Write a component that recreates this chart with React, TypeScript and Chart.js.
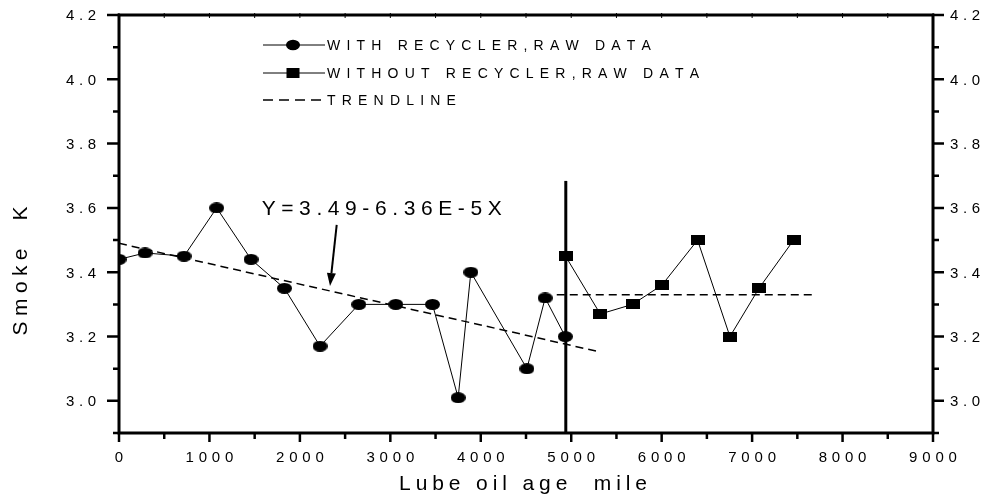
import React, { useEffect, useRef } from 'react';
import { Chart, registerables } from 'chart.js';

Chart.register(...registerables);

// ---- data ----
const withRecyclerX = [0, 288, 719, 1080, 1460, 1829, 2223, 2651, 3060, 3466, 3750, 3890, 4510, 4712, 4934];
const withRecyclerY = [3.44, 3.46, 3.45, 3.6, 3.44, 3.35, 3.17, 3.3, 3.3, 3.3, 3.01, 3.4, 3.1, 3.32, 3.2];
const withoutRecyclerX = [4937, 5321, 5678, 6003, 6397, 6755, 7076, 7459];
const withoutRecyclerY = [3.45, 3.27, 3.3, 3.36, 3.5, 3.2, 3.35, 3.5];
// Y = 3.49 - 6.36E-5 X
const trend1X = [0, 5320];
const trend1Y = [3.49, 3.152];
const trend2X = [4840, 7670];
const trend2Y = [3.33, 3.33];
const dividerX = [4940, 4940];
const dividerY = [2.9, 3.684];

const xRange = [0, 9000];
const yRange = [2.9, 4.2];
const xTickValues = [0, 1000, 2000, 3000, 4000, 5000, 6000, 7000, 8000, 9000];
const xMinorStep = 500;
const yTickLabels = ['3.0', '3.2', '3.4', '3.6', '3.8', '4.0', '4.2'];
const yMinorStep = 0.1;

const legendLabels = ['WITH RECYCLER,RAW DATA', 'WITHOUT RECYCLER,RAW DATA', 'TRENDLINE'];
const equationText = 'Y=3.49-6.36E-5X';
const equationAnchor = [1577, 3.6];
const arrowFrom = [2407, 3.547];
const arrowTo = [2333, 3.357];
const xTitle = 'Lube oil age  mile';
const yTitle = 'Smoke  K';

const FONT = '"Liberation Sans", Arial, Helvetica, sans-serif';

function drawSpaced(
  ctx: CanvasRenderingContext2D,
  text: string,
  x: number,
  y: number,
  spacing: number,
  align: 'left' | 'center' | 'right'
) {
  const chars = Array.from(text);
  const widths = chars.map((c) => ctx.measureText(c).width);
  const total = widths.reduce((a, b) => a + b, 0) + spacing * (chars.length - 1);
  let cx = align === 'left' ? x : align === 'center' ? x - total / 2 : x - total;
  ctx.textAlign = 'left';
  chars.forEach((c, i) => {
    ctx.fillText(c, cx, y);
    cx += widths[i] + spacing;
  });
}

function makeEllipse(w: number, h: number) {
  const c = document.createElement('canvas');
  c.width = w;
  c.height = h;
  const g = c.getContext('2d')!;
  g.fillStyle = '#000';
  g.beginPath();
  g.ellipse(w / 2, h / 2, w / 2, h / 2, 0, 0, Math.PI * 2);
  g.fill();
  return c;
}

function makeRect(w: number, h: number) {
  const c = document.createElement('canvas');
  c.width = w;
  c.height = h;
  const g = c.getContext('2d')!;
  g.fillStyle = '#000';
  g.fillRect(0, 0, w, h);
  return c;
}

const framePlugin = {
  id: 'originFrame',
  afterDraw(chart: any) {
    const ctx: CanvasRenderingContext2D = chart.ctx;
    const xs = chart.scales.x;
    const ys = chart.scales.y;
    const { left: L, right: R, top: T, bottom: B } = chart.chartArea;
    ctx.save();
    ctx.strokeStyle = '#000';
    ctx.fillStyle = '#000';

    // frame
    ctx.lineWidth = 3;
    ctx.beginPath();
    ctx.rect(L, T, R - L, B - T);
    ctx.stroke();

    // ticks
    ctx.lineWidth = 2.5;
    const yMajorVals = yTickLabels.map(Number);
    for (let v = yRange[0]; v <= yRange[1] + 1e-9; v += yMinorStep) {
      const isMajor = yMajorVals.some((m) => Math.abs(m - v) < 1e-6);
      const py = ys.getPixelForValue(v);
      const len = isMajor ? 12 : 6;
      ctx.beginPath();
      ctx.moveTo(L - len, py);
      ctx.lineTo(L, py);
      ctx.moveTo(R, py);
      ctx.lineTo(R + (isMajor ? 11 : 6), py);
      ctx.stroke();
    }
    for (let v = xRange[0]; v <= xRange[1] + 1e-9; v += xMinorStep) {
      const isMajor = xTickValues.includes(v);
      const px = xs.getPixelForValue(v);
      ctx.lineWidth = 2.5;
      ctx.beginPath();
      ctx.moveTo(px, B);
      ctx.lineTo(px, B + (isMajor ? 9 : 6));
      ctx.stroke();
      ctx.lineWidth = 1;
      ctx.beginPath();
      ctx.moveTo(px, T - 2);
      ctx.lineTo(px, T + 3);
      ctx.stroke();
    }

    // tick labels
    ctx.textBaseline = 'alphabetic';
    ctx.font = `15px ${FONT}`;
    yTickLabels.forEach((lab) => {
      const py = ys.getPixelForValue(Number(lab));
      drawSpaced(ctx, lab, L - 23, py + 5.4, 4.6, 'right');
      drawSpaced(ctx, lab, R + 17, py + 5.4, 4.6, 'left');
    });
    xTickValues.forEach((v) => {
      const px = xs.getPixelForValue(v);
      drawSpaced(ctx, String(v), px, B + 29, 4.8, 'center');
    });

    // axis titles
    ctx.font = `21px ${FONT}`;
    drawSpaced(ctx, xTitle, (L + R) / 2 - 3, B + 57, 4.9, 'center');
    ctx.save();
    ctx.font = `21px ${FONT}`;
    ctx.translate(27, (T + B) / 2 + 47);
    ctx.rotate(-Math.PI / 2);
    drawSpaced(ctx, yTitle, 0, 0, 5.4, 'center');
    ctx.restore();

    // equation annotation + arrow
    ctx.font = `21px ${FONT}`;
    drawSpaced(
      ctx,
      equationText,
      xs.getPixelForValue(equationAnchor[0]),
      ys.getPixelForValue(equationAnchor[1]) + 7.5,
      5.6,
      'left'
    );
    const ax0 = xs.getPixelForValue(arrowFrom[0]);
    const ay0 = ys.getPixelForValue(arrowFrom[1]);
    const ax1 = xs.getPixelForValue(arrowTo[0]);
    const ay1 = ys.getPixelForValue(arrowTo[1]);
    const ang = Math.atan2(ay1 - ay0, ax1 - ax0);
    const headLen = 13;
    const headW = 4.5;
    const bx = ax1 - headLen * Math.cos(ang);
    const by = ay1 - headLen * Math.sin(ang);
    ctx.lineWidth = 2;
    ctx.beginPath();
    ctx.moveTo(ax0, ay0);
    ctx.lineTo(bx, by);
    ctx.stroke();
    ctx.beginPath();
    ctx.moveTo(ax1, ay1);
    ctx.lineTo(bx + headW * Math.sin(ang), by - headW * Math.cos(ang));
    ctx.lineTo(bx - headW * Math.sin(ang), by + headW * Math.cos(ang));
    ctx.closePath();
    ctx.fill();

    // legend
    const rows = [45, 73, 100];
    ctx.font = `14px ${FONT}`;
    ctx.lineWidth = 1;
    // row 1
    ctx.beginPath();
    ctx.moveTo(263, rows[0]);
    ctx.lineTo(325, rows[0]);
    ctx.stroke();
    ctx.beginPath();
    ctx.ellipse(293, rows[0], 7, 5.2, 0, 0, Math.PI * 2);
    ctx.fill();
    // row 2
    ctx.beginPath();
    ctx.moveTo(263, rows[1]);
    ctx.lineTo(325, rows[1]);
    ctx.stroke();
    ctx.fillRect(286.5, rows[1] - 5, 13, 10);
    // row 3
    ctx.lineWidth = 1.5;
    ctx.setLineDash([10, 6]);
    ctx.beginPath();
    ctx.moveTo(263, rows[2]);
    ctx.lineTo(321, rows[2]);
    ctx.stroke();
    ctx.setLineDash([]);
    legendLabels.forEach((lab, i) => {
      drawSpaced(ctx, lab, 327, rows[i] + 5, 6.2, 'left');
    });

    ctx.restore();
  },
};

export default function App() {
  const ref = useRef<HTMLCanvasElement | null>(null);

  useEffect(() => {
    if (!ref.current) return;
    const ellipse = makeEllipse(15, 11);
    const square = makeRect(14, 10);
    const pts = (xs: number[], ys: number[]) => xs.map((x, i) => ({ x, y: ys[i] }));

    const chart = new Chart(ref.current, {
      type: 'line',
      data: {
        datasets: [
          {
            label: 'TRENDLINE',
            data: pts(trend1X, trend1Y),
            borderColor: '#000',
            borderWidth: 1.5,
            borderDash: [8, 5],
            pointRadius: 0,
            fill: false,
          },
          {
            label: 'TRENDLINE 2',
            data: pts(trend2X, trend2Y),
            borderColor: '#000',
            borderWidth: 1.5,
            borderDash: [8, 5],
            pointRadius: 0,
            fill: false,
          },
          {
            label: 'divider',
            data: pts(dividerX, dividerY),
            borderColor: '#000',
            borderWidth: 3,
            pointRadius: 0,
            fill: false,
          },
          {
            label: 'WITH RECYCLER,RAW DATA',
            data: pts(withRecyclerX, withRecyclerY),
            borderColor: '#000',
            backgroundColor: '#000',
            borderWidth: 1,
            pointStyle: ellipse as any,
            pointRadius: 6,
            fill: false,
          },
          {
            label: 'WITHOUT RECYCLER,RAW DATA',
            data: pts(withoutRecyclerX, withoutRecyclerY),
            borderColor: '#000',
            backgroundColor: '#000',
            borderWidth: 1,
            pointStyle: square as any,
            pointRadius: 6,
            fill: false,
          },
        ],
      },
      options: {
        animation: false,
        responsive: false,
        events: [],
        layout: { padding: { left: 119, right: 52, top: 15, bottom: 67 } },
        scales: {
          x: { type: 'linear', min: xRange[0], max: xRange[1], display: false },
          y: { type: 'linear', min: yRange[0], max: yRange[1], display: false },
        },
        plugins: {
          legend: { display: false },
          tooltip: { enabled: false },
          title: { display: false },
        },
      },
      plugins: [framePlugin],
    });
    return () => chart.destroy();
  }, []);

  return (
    <div style={{ position: 'absolute', left: 0, top: 0, width: 985, height: 500, background: '#fff' }}>
      <canvas ref={ref} width={985} height={500} style={{ width: 985, height: 500, display: 'block' }} />
    </div>
  );
}
